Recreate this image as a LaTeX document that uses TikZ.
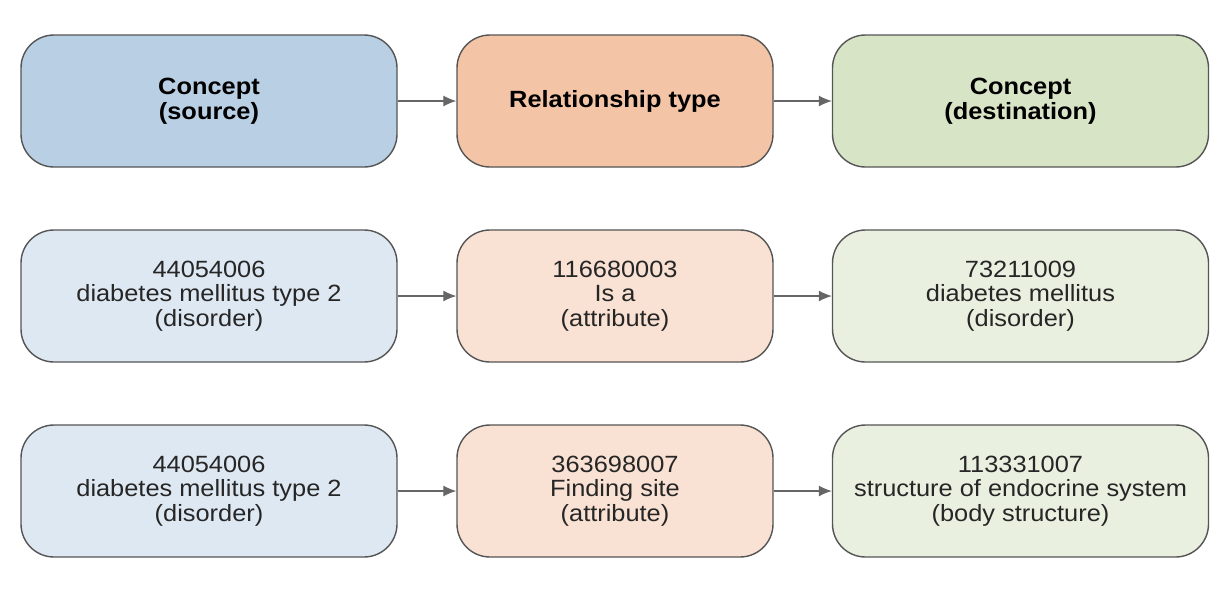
\documentclass[tikz,border=0pt]{standalone}
\usepackage{fontspec}
\setmainfont{Liberation Sans}[FakeStretch=1.08]
\usepackage{tikz}
\usetikzlibrary{arrows.meta}

\definecolor{srcdark}{HTML}{B9CFE4}
\definecolor{reldark}{HTML}{F3C5A6}
\definecolor{dstdark}{HTML}{D8E4C6}
\definecolor{srclight}{HTML}{DEE8F2}
\definecolor{rellight}{HTML}{F9E1D3}
\definecolor{dstlight}{HTML}{EAF0E0}
\definecolor{edge}{HTML}{555555}

\begin{document}
\begin{tikzpicture}[x=1pt, y=-1pt,
  box/.style={draw=edge, line width=1.4pt, rounded corners=33pt, align=center,
    minimum height=132pt, inner sep=0pt,
    font=\fontsize{23.5}{24.5}\selectfont\color{black!85}},
  wide/.style={box, minimum width=376pt},
  narrow/.style={box, minimum width=316pt},
  head/.style={font=\fontsize{23.5}{24.5}\selectfont\bfseries},
  link/.style={draw=black!60, line width=1.2pt, -{Latex[length=13pt, width=11pt]}}]
  \useasboundingbox (0,0) rectangle (1230,590);

  % header row
  \node[wide, head, fill=srcdark] (src) at (209,101) {Concept\\(source)};
  \node[narrow, head, fill=reldark] (rel) at (615,101) {Relationship type};
  \node[wide, head, fill=dstdark] (dst) at (1020.5,101) {Concept\\(destination)};

  % is a
  \node[wide, fill=srclight] (srcA) at (209,296) {44054006\\diabetes mellitus type 2\\(disorder)};
  \node[narrow, fill=rellight] (relA) at (615,296) {116680003\\Is a\\(attribute)};
  \node[wide, fill=dstlight] (dstA) at (1020.5,296) {73211009\\diabetes mellitus\\(disorder)};

  % finding site
  \node[wide, fill=srclight] (srcB) at (209,491) {44054006\\diabetes mellitus type 2\\(disorder)};
  \node[narrow, fill=rellight] (relB) at (615,491) {363698007\\Finding site\\(attribute)};
  \node[wide, fill=dstlight] (dstB) at (1020.5,491) {113331007\\structure of endocrine system\\(body structure)};

  \draw[link] (src) -- (rel);
  \draw[link] (rel) -- (dst);
  \draw[link] (srcA) -- (relA);
  \draw[link] (relA) -- (dstA);
  \draw[link] (srcB) -- (relB);
  \draw[link] (relB) -- (dstB);
\end{tikzpicture}
\end{document}
